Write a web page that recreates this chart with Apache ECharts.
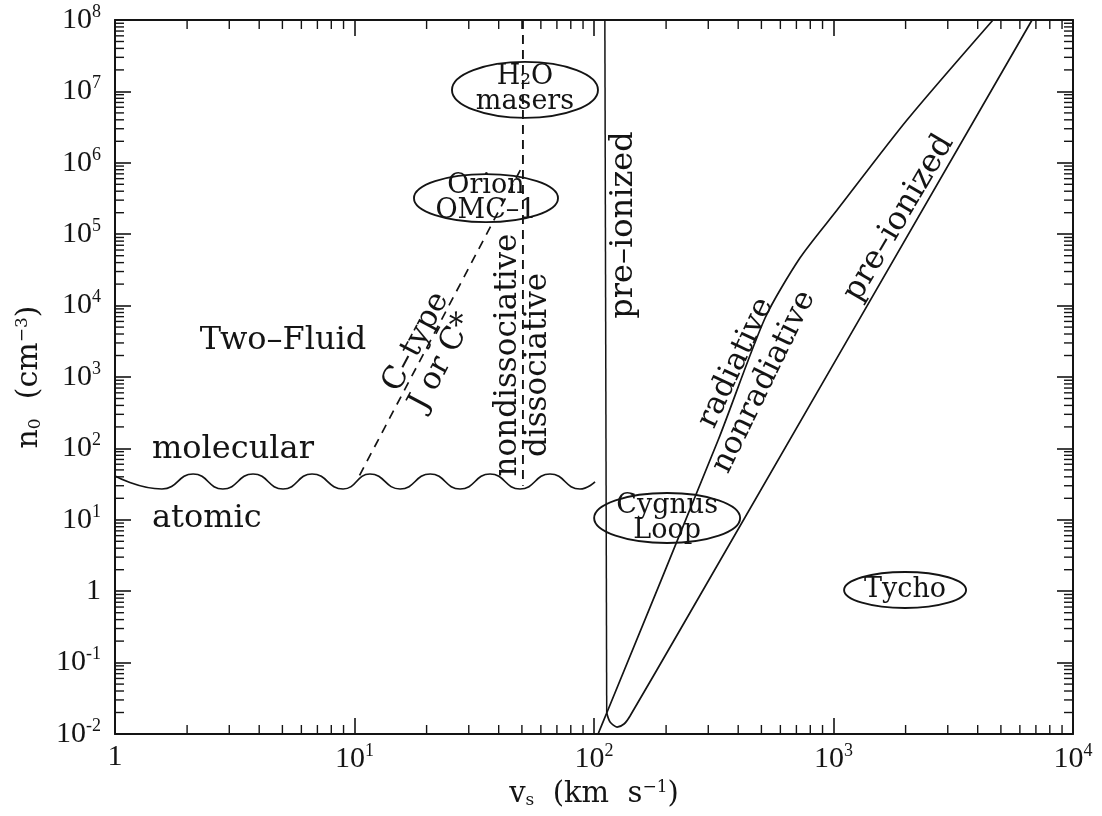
<!DOCTYPE html>
<html>
<head>
<meta charset="utf-8">
<script src="https://cdn.jsdelivr.net/npm/echarts@6/dist/echarts.min.js"></script>
<style>
  html, body { margin: 0; padding: 0; background: #fff; }
  #chart { width: 1102px; height: 816px; }
</style>
</head>
<body>
<div id="chart"></div>
<script>
// Shock regimes in the shock-velocity / pre-shock density plane.

// Axis ranges (decades)
const xDecades = [0, 1, 2, 3, 4];
const yDecades = [-2, -1, 0, 1, 2, 3, 4, 5, 6, 7, 8];

// Molecular / atomic boundary: crests and troughs of the wavy line
const moleculeWave = [
  [1.0, 41], [1.57, 27], [2.12, 43.8], [2.82, 27], [3.77, 43.8], [5.03, 27],
  [6.65, 43.8], [8.96, 27], [11.6, 43.8], [15.5, 27], [20.7, 43.8], [27.6, 27],
  [36.8, 43.8], [49.1, 27], [65.5, 43.8], [87.4, 27], [101, 34]
];

// C-type / J-type boundary (dashed)
const cTypeLine = [[10.5, 42], [50.5, 9.3e5]];

// nondissociative / dissociative boundary (dashed, vertical)
const dissocLine = [[50.5, 1e8], [50.5, 30]];

// pre-ionized boundary (solid, vertical)
const preionLine = [[111, 1e8], [113, 0.0197]];

// radiative / nonradiative boundary
const radiativeLine = [
  [104, 0.01], [113, 0.0197], [330, 131], [518, 6700], [724, 4.64e4],
  [1035, 2.18e5], [2027, 3.97e6], [4634, 1e8]
];

// nonradiative / pre-ionized boundary, closing at low density
const preionCurve = [
  [113, 0.0197], [116.7, 0.0147], [124.8, 0.0125], [133.4, 0.0138], [141.4, 0.0179],
  [228.6, 0.286], [6745, 1e8]
];

// Observed objects
const objectNames = ['H₂O\nmasers', 'Orion\nOMC–1', 'Cygnus\nLoop', 'Tycho'];
const objectV = [51.5, 35.4, 202, 1990];
const objectN = [1.05e7, 3.2e5, 10.6, 1.04];

// Minor tick positions (2..9 within each decade)
const minorMult = [2, 3, 4, 5, 6, 7, 8, 9];
const tickItems = [];
xDecades.slice(0, -1).forEach(d => minorMult.forEach(m => tickItems.push([m * Math.pow(10, d), 0.01, 0])));
yDecades.slice(0, -1).forEach(d => minorMult.forEach(m => tickItems.push([1, m * Math.pow(10, d), 1])));

const objectItems = objectNames.map((n, i) => ({ name: n, value: [objectV[i], objectN[i], i] }));

const SERIF = '"DejaVu Serif", "Liberation Serif", serif';
const TICK_FONT = '"Liberation Serif", "DejaVu Serif", serif';
const INK = '#141414';

function powLabel(v) {
  const e = Math.round(Math.log10(v));
  if (e === 0) return '{b|1}';
  return '{b|10}{s|' + e + '}';
}
const tickRich = {
  b: { fontSize: 30, fontFamily: TICK_FONT, color: INK },
  s: { fontSize: 18, fontFamily: TICK_FONT, color: INK, padding: [0, 0, 16, 0] }
};

function frameAxis(extra) {
  return Object.assign({
    type: 'log',
    logBase: 10,
    interval: 1,
    axisLine: { show: true, lineStyle: { color: INK, width: 2 } },
    axisTick: { show: true, inside: true, length: 16, lineStyle: { color: INK, width: 1.6 } },
    splitLine: { show: false },
    minorTick: { show: false },
    minorSplitLine: { show: false }
  }, extra);
}

const ellipseSize = [[73, 28], [72, 24], [73, 25], [61, 18]];

function note(text, x, y, deg, size, align) {
  return {
    type: 'text', x: x, y: y, rotation: (deg || 0) * Math.PI / 180,
    style: { text: text, font: size + 'px ' + SERIF, fill: INK, align: align || 'center', verticalAlign: 'middle' }
  };
}

const option = {
  backgroundColor: '#fff',
  animation: false,
  grid: { left: 115, top: 20, width: 958, height: 714, containLabel: false },
  xAxis: [
    frameAxis({
      position: 'bottom', min: 1, max: 1e4,
      axisLabel: { show: true, margin: 8, formatter: powLabel, rich: tickRich },
      name: '{v|v}{sub|s}{v|  (km  s}{sup|−1}{v|)}',
      nameLocation: 'middle', nameGap: 44,
      nameTextStyle: {
        rich: {
          v: { fontSize: 29, fontFamily: SERIF, color: INK },
          sub: { fontSize: 17, fontFamily: SERIF, color: INK, padding: [12, 0, 0, 0] },
          sup: { fontSize: 17, fontFamily: SERIF, color: INK, padding: [0, 0, 14, 0] }
        }
      }
    }),
    frameAxis({ position: 'top', min: 1, max: 1e4, axisLabel: { show: false } })
  ],
  yAxis: [
    frameAxis({
      position: 'left', min: 0.01, max: 1e8,
      axisLabel: { show: true, margin: 14, formatter: powLabel, rich: tickRich },
      name: '{v|n}{sub|0}{v|  (cm}{sup|−3}{v|)}',
      nameLocation: 'middle', nameRotate: 90, nameGap: 70,
      nameTextStyle: {
        rich: {
          v: { fontSize: 30, fontFamily: SERIF, color: INK },
          sub: { fontSize: 17, fontFamily: SERIF, color: INK, padding: [12, 0, 0, 0] },
          sup: { fontSize: 17, fontFamily: SERIF, color: INK, padding: [0, 0, 14, 0] }
        }
      }
    }),
    frameAxis({ position: 'right', min: 0.01, max: 1e8, axisLabel: { show: false } })
  ],
  series: [
    {
      // minor ticks on all four sides of the frame
      type: 'custom',
      silent: true,
      clip: false,
      data: tickItems,
      encode: { x: 0, y: 1 },
      renderItem: function (params, api) {
        const cs = params.coordSys;
        const p = api.coord([api.value(0), api.value(1)]);
        const L = 9;
        const st = { stroke: INK, lineWidth: 1.4 };
        if (api.value(2) === 0) {
          const x = p[0], b = cs.y + cs.height, t = cs.y;
          return { type: 'group', children: [
            { type: 'line', shape: { x1: x, y1: b, x2: x, y2: b - L }, style: st },
            { type: 'line', shape: { x1: x, y1: t, x2: x, y2: t + L }, style: st }
          ] };
        }
        const y = p[1], l = cs.x, r = cs.x + cs.width;
        return { type: 'group', children: [
          { type: 'line', shape: { x1: l, y1: y, x2: l + L, y2: y }, style: st },
          { type: 'line', shape: { x1: r, y1: y, x2: r - L, y2: y }, style: st }
        ] };
      },
      z: 5
    },
    {
      type: 'line', data: moleculeWave, smooth: true, showSymbol: false, silent: true,
      lineStyle: { color: INK, width: 1.7 }
    },
    {
      type: 'line', data: cTypeLine, showSymbol: false, silent: true,
      lineStyle: { color: INK, width: 1.7, type: [9, 7] }
    },
    {
      type: 'line', data: dissocLine, showSymbol: false, silent: true,
      lineStyle: { color: INK, width: 1.9, type: [9, 6] }
    },
    {
      type: 'line', data: preionLine, showSymbol: false, silent: true,
      lineStyle: { color: INK, width: 1.5 }
    },
    {
      type: 'line', data: radiativeLine, smooth: 0.25, showSymbol: false, silent: true,
      lineStyle: { color: INK, width: 1.7 }
    },
    {
      type: 'line', data: preionCurve, smooth: 0.25, showSymbol: false, silent: true,
      lineStyle: { color: INK, width: 1.7 }
    },
    {
      // object ellipses with their names
      type: 'custom',
      silent: true,
      data: objectItems,
      encode: { x: 0, y: 1 },
      renderItem: function (params, api) {
        const p = api.coord([api.value(0), api.value(1)]);
        const sz = ellipseSize[api.value(2)];
        return { type: 'group', children: [
          { type: 'ellipse', shape: { cx: p[0], cy: p[1], rx: sz[0], ry: sz[1] },
            style: { fill: 'none', stroke: INK, lineWidth: 1.9 } },
          { type: 'text', x: p[0], y: p[1],
            style: { text: objectNames[api.value(2)], font: '27px ' + SERIF, fill: INK,
                     align: 'center', verticalAlign: 'middle', lineHeight: 25 } }
        ] };
      },
      z: 4
    }
  ],
  graphic: [
    note('Two–Fluid', 283, 341, 0, 32),
    note('molecular', 152, 450, 0, 32, 'left'),
    note('atomic', 152, 519, 0, 32, 'left'),
    note('C–type', 416, 342, 62, 31),
    note('J or C*', 442, 362, 62, 31),
    note('nondissociative', 508, 355, 90, 31),
    note('dissociative', 538, 365, 90, 31),
    note('pre–ionized', 624, 225, 90, 32),
    note('radiative', 736, 363, 65, 31),
    note('nonradiative', 764, 382, 64, 31),
    note('pre–ionized', 899, 218, 59.5, 32)
  ]
};

const chart = echarts.init(document.getElementById('chart'), null, { renderer: 'canvas' });
chart.setOption(option);
</script>
</body>
</html>
